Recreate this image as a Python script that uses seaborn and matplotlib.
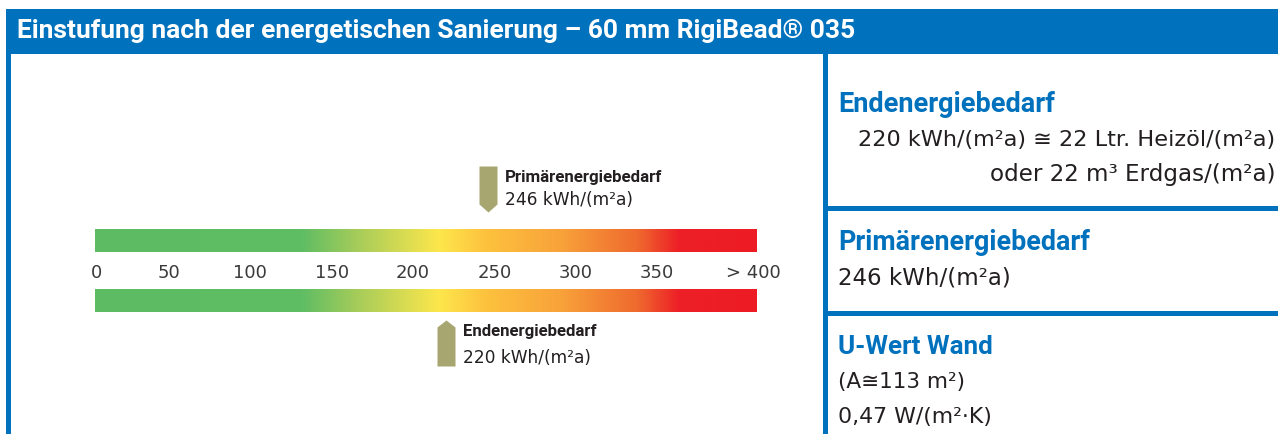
import numpy as np
import matplotlib
matplotlib.use("Agg")
import matplotlib.pyplot as plt
import seaborn as sns
from matplotlib.path import Path
from matplotlib.colors import LinearSegmentedColormap
from matplotlib.patches import Rectangle
from matplotlib.transforms import ScaledTranslation

# ---------------- data ----------------
title = "Einstufung nach der energetischen Sanierung – 60 mm RigiBead® 035"
scale_ticks = [0, 50, 100, 150, 200, 250, 300, 350, 400]
scale_labels = ["0", "50", "100", "150", "200", "250", "300", "350", "> 400"]
indicator_names = ["Primärenergiebedarf", "Endenergiebedarf"]
indicator_values = [246, 220]
indicator_unit = "kWh/(m²a)"

panel_headings = ["Endenergiebedarf", "Primärenergiebedarf", "U-Wert Wand"]
panel_end_lines = ["220 kWh/(m²a) ≅ 22 Ltr. Heizöl/(m²a)", "oder 22 m³ Erdgas/(m²a)"]
panel_prim_lines = ["246 kWh/(m²a)"]
panel_u_lines = ["(A≅113 m²)", "0,47 W/(m²·K)"]

grad_stops = [0.0, 0.312, 0.396, 0.52, 0.59, 0.705, 0.82, 0.883, 1.0]
grad_colors = ["#5dbb63", "#5fbd64", "#a6cc5a", "#fde74c", "#fdc23e",
               "#f8a23a", "#ef6a2e", "#ed2027", "#ed1c24"]

# ---------------- style ----------------
BLUE = "#0071bc"
DARK = "#231f20"
TICK = "#3a3a3a"
OLIVE = "#a8a670"
BOLD_FAMILY = ["Roboto", "DejaVu Sans"]

W, H = 1278, 435
sns.set_theme(style="white")
plt.rcParams["font.family"] = ["DejaVu Sans"]

fig = plt.figure(figsize=(W / 100, H / 100), dpi=100)
fig.patch.set_facecolor("white")


def fx(px):
    return px / W


def fy(py):
    return 1 - py / H


def rect(x0, y0, x1, y1):
    fig.add_artist(Rectangle((fx(x0), fy(y1)), (x1 - x0) / W, (y1 - y0) / H,
                             transform=fig.transFigure, color=BLUE, lw=0))


# frame
rect(6, 10, 1278, 55)
rect(6, 55, 11, 435)
rect(823, 55, 828, 435)
rect(823, 207, 1278, 212)
rect(823, 312, 1278, 317)

fits = []

# header
t = fig.text(fx(17), fy(38), title, color="white", fontweight="bold",
             family=BOLD_FAMILY, fontsize=14, ha="left", va="baseline")
fits.append((t, 836))

# ---------------- scale axes ----------------
ax = fig.add_axes([fx(11), 0, (823 - 11) / W, (435 - 55) / H])
ax.patch.set_alpha(0)
PX0, K = 87.5, 1.628          # pixel = PX0 + K * value
xlim = ((11 - PX0) / K, (823 - PX0) / K)
bar_lo, bar_hi = (95 - PX0) / K, (756 - PX0) / K

cmap = LinearSegmentedColormap.from_list("energy", list(zip(grad_stops, grad_colors)))
grad = np.linspace(0, 1, 1000)[None, :]
for (ytop, ybot) in [(230, 253), (290, 313)]:
    ax.imshow(grad, cmap=cmap, extent=[bar_lo, bar_hi, ybot, ytop],
              aspect="auto", interpolation="bilinear")

# arrows
down = Path([(-9, 23), (9, 23), (9, -15), (0, -23), (-9, -15), (-9, 23)],
            [Path.MOVETO, Path.LINETO, Path.LINETO, Path.LINETO, Path.LINETO, Path.CLOSEPOLY])
up = Path([(0, 23), (9, 16), (9, -23), (-9, -23), (-9, 16), (0, 23)],
          [Path.MOVETO, Path.LINETO, Path.LINETO, Path.LINETO, Path.LINETO, Path.CLOSEPOLY])
layout = {
    "Primärenergiebedarf": dict(center=190, marker=down, name_base=182, unit_base=205),
    "Endenergiebedarf": dict(center=344, marker=up, name_base=336, unit_base=363),
}
msize = (46 * 0.72) ** 2
for name, val in zip(indicator_names, indicator_values):
    lay = layout[name]
    sns.scatterplot(x=[val], y=[lay["center"]], marker=lay["marker"], s=msize,
                    color=OLIVE, linewidth=0, ax=ax, legend=False)
    t1 = ax.annotate(name, xy=(val, lay["name_base"]), xytext=(17, 0),
                     textcoords="offset pixels", ha="left", va="baseline",
                     fontweight="bold", family=BOLD_FAMILY, color=DARK, fontsize=10)
    t2 = ax.annotate(f"{val} {indicator_unit}", xy=(val, lay["unit_base"]), xytext=(17, 0),
                     textcoords="offset pixels", ha="left", va="baseline",
                     color=DARK, fontsize=11)
    fits.append((t1, 157 if name.startswith("Prim") else 134))
    fits.append((t2, 128))

ax.set_xticks(scale_ticks, labels=scale_labels)
ax.set_yticks([])
for s in ax.spines.values():
    s.set_visible(False)
ax.spines["bottom"].set_position(("data", 264.5))
ax.tick_params(axis="x", length=0, pad=0, labelsize=13, labelcolor=TICK)
ax.set_xlim(*xlim)
ax.set_ylim(435, 55)

# the printed scale labels sit slightly off a linear scale at both ends
major = ax.xaxis.get_major_ticks()
for tk, dx in [(major[0], 9), (major[-1], 15)]:
    tk.label1.set_transform(tk.label1.get_transform()
                            + ScaledTranslation(dx / 100, 0, fig.dpi_scale_trans))

# ---------------- right panel ----------------
t = fig.text(fx(838), fy(112), panel_headings[0], color=BLUE, fontweight="bold",
             family=BOLD_FAMILY, fontsize=15, va="baseline")
fits.append((t, 217))
t = fig.text(fx(1275), fy(146), panel_end_lines[0], color=DARK, fontsize=15,
             ha="right", va="baseline")
fits.append((t, 417))
t = fig.text(fx(1275), fy(181), panel_end_lines[1], color=DARK, fontsize=15,
             ha="right", va="baseline")
fits.append((t, 287))

t = fig.text(fx(838), fy(250), panel_headings[1], color=BLUE, fontweight="bold",
             family=BOLD_FAMILY, fontsize=15, va="baseline")
fits.append((t, 252))
t = fig.text(fx(838), fy(285), panel_prim_lines[0], color=DARK, fontsize=15, va="baseline")
fits.append((t, 172))

t = fig.text(fx(838), fy(354), panel_headings[2], color=BLUE, fontweight="bold",
             family=BOLD_FAMILY, fontsize=15, va="baseline")
fits.append((t, 155))
t = fig.text(fx(838), fy(388), panel_u_lines[0], color=DARK, fontsize=15, va="baseline")
fits.append((t, 127))
t = fig.text(fx(838), fy(423), panel_u_lines[1], color=DARK, fontsize=15, va="baseline")
fits.append((t, 154))

# fit text widths
fig.canvas.draw()
renderer = fig.canvas.get_renderer()
for _ in range(2):
    for txt, target in fits:
        bb = txt.get_window_extent(renderer)
        txt.set_fontsize(txt.get_fontsize() * target / bb.width)
    fig.canvas.draw()

fig.savefig("out.png", dpi=100, facecolor="white")
